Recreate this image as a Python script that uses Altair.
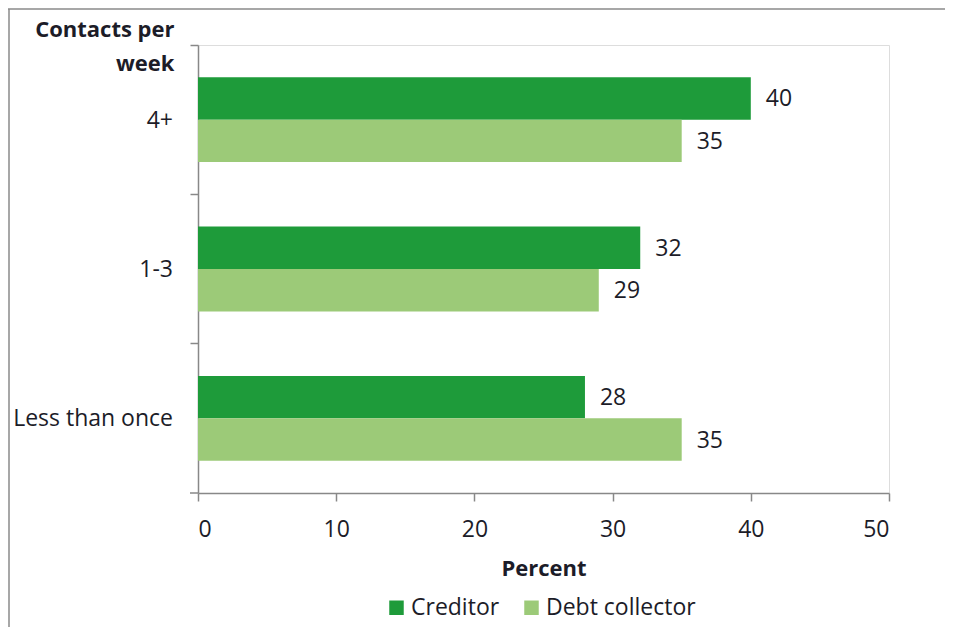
import altair as alt
import pandas as pd

categories = ["4+", "1-3", "Less than once"]
series = ["Creditor", "Debt collector"]
creditor = [40, 32, 28]
debt_collector = [35, 29, 35]
x_ticks = [0, 10, 20, 30, 40, 50]
colors = ["#1e9b3a", "#9cca78"]

rows = []
for c, a, b in zip(categories, creditor, debt_collector):
    rows.append({"cat": c, "series": series[0], "value": a})
    rows.append({"cat": c, "series": series[1], "value": b})
df = pd.DataFrame(rows)
df_cat = pd.DataFrame({"cat": categories})

FONT = "Open Sans"
TXT = "#1c1c28"
AX = "#888888"
W, H = 691, 448
FS = 23
TFS = 22

yenc = alt.Y("cat:N", sort=categories,
             scale=alt.Scale(paddingInner=0, paddingOuter=0),
             axis=alt.Axis(labels=False, bandPosition=0, tickSize=8, tickColor=AX,
                           domainColor=AX, tickWidth=1.5, domainWidth=1.5,
                           title=["Contacts per", "week"], titleAngle=0,
                           titleAlign="right", titleBaseline="top",
                           titleX=-24, titleY=-26, titleLineHeight=34,
                           titleFont=FONT, titleFontSize=TFS, titleFontWeight="bold",
                           titleColor=TXT))
yoff = alt.YOffset("series:N", sort=series,
                   scale=alt.Scale(paddingInner=0, paddingOuter=0.76))

bars = alt.Chart(df).mark_bar().encode(
    x=alt.X("value:Q", scale=alt.Scale(domain=[0, 50]),
            axis=alt.Axis(values=x_ticks, tickSize=8, tickColor=AX, domainColor=AX,
                          tickWidth=1.5, domainWidth=1.5, grid=False,
                          labelFont=FONT, labelFontSize=FS, labelColor=TXT,
                          labelPadding=17, title="Percent", titleFont=FONT,
                          titleFontSize=TFS, titleFontWeight="bold", titleColor=TXT,
                          titlePadding=17)),
    y=yenc,
    yOffset=yoff,
    color=alt.Color("series:N", sort=series,
                    scale=alt.Scale(domain=series, range=colors),
                    legend=alt.Legend(title=None, orient="none", direction="horizontal",
                                      legendX=187, legendY=551, symbolType="square",
                                      symbolSize=210, symbolStrokeWidth=0,
                                      labelFont=FONT, labelFontSize=FS, labelColor=TXT,
                                      columnPadding=20, labelOffset=3)),
)

labels = alt.Chart(df).mark_text(align="left", baseline="middle", dx=15, dy=1,
                                 font=FONT, fontSize=FS, color=TXT).encode(
    x="value:Q", y=alt.Y("cat:N", sort=categories), yOffset=yoff, text="value:Q")

cat_labels = alt.Chart(df_cat).mark_text(align="right", baseline="middle", dy=1,
                                         font=FONT, fontSize=FS, color=TXT).encode(
    y=alt.Y("cat:N", sort=categories), x=alt.value(-25), text="cat:N")

bottom_tick = alt.Chart(df_cat.head(1)).mark_rule(color=AX, strokeWidth=1.5).encode(
    x=alt.value(-8), x2=alt.value(0), y=alt.value(H))

border_top = alt.Chart(df_cat.head(1)).mark_rule(color="#8a8a8a", strokeWidth=1.5).encode(
    x=alt.value(-190), x2=alt.value(W + 60), y=alt.value(-36))
border_left = alt.Chart(df_cat.head(1)).mark_rule(color="#8a8a8a", strokeWidth=1.5).encode(
    x=alt.value(-189), y=alt.value(-36), y2=alt.value(H + 140))

chart = alt.layer(bars, labels, cat_labels, bottom_tick, border_top, border_left).properties(
    width=W, height=H,
    autosize=alt.AutoSizeParams(type="none"),
    padding={"left": 190, "top": 37, "right": 56, "bottom": 134},
).configure_view(stroke=None).configure(background="white")

chart.save("out.html", embed_options={"renderer": "svg", "actions": False})
